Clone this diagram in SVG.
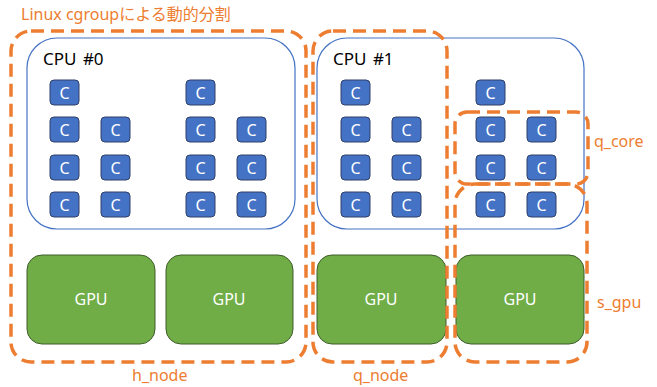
<svg xmlns="http://www.w3.org/2000/svg" width="657" height="387" viewBox="0 0 657 387">
<style>
.cpu{fill:#fff;stroke:#4472C4;stroke-width:1.2}
.core{fill:#4472C4;stroke:#2F3F66;stroke-width:1}
.ct{fill:#fff;font-family:"Noto Sans","Liberation Sans",sans-serif;font-size:16px;text-anchor:middle}
.gpu{fill:#70AD47;stroke:#3E5C2A;stroke-width:1}
.gt{fill:#fff;font-family:"Noto Sans","Liberation Sans",sans-serif;font-size:16px;text-anchor:middle}
.lbl{fill:#000;font-family:"Noto Sans","Liberation Sans",sans-serif;font-size:17px;word-spacing:2px}
.grp{fill:none;stroke:#ED7D31;stroke-width:3.5;stroke-dasharray:13 7}
.gl{fill:#ED7D31;font-family:"Noto Sans","Noto Sans CJK JP",sans-serif;font-size:16px}
</style>
<defs>
<g id="c"><rect class="core" x="0" y="0" width="29" height="25" rx="4"/><text class="ct" x="14.5" y="18.5">C</text></g>
</defs>
<g id="cpu0">
<rect class="cpu" x="27" y="38" width="268" height="191" rx="30"/>
<text class="lbl" x="43" y="65">CPU #0</text>
<use href="#c" x="50" y="80"/><use href="#c" x="186" y="80"/>
<use href="#c" x="50" y="117"/><use href="#c" x="101" y="117"/><use href="#c" x="186" y="117"/><use href="#c" x="237" y="117"/>
<use href="#c" x="50" y="155"/><use href="#c" x="101" y="155"/><use href="#c" x="186" y="155"/><use href="#c" x="237" y="155"/>
<use href="#c" x="50" y="192"/><use href="#c" x="101" y="192"/><use href="#c" x="186" y="192"/><use href="#c" x="237" y="192"/>
</g>
<g id="cpu1">
<rect class="cpu" x="317" y="38" width="267" height="191" rx="30"/>
<text class="lbl" x="333" y="65">CPU #1</text>
<use href="#c" x="341" y="80"/><use href="#c" x="476" y="80"/>
<use href="#c" x="341" y="117"/><use href="#c" x="392" y="117"/><use href="#c" x="476" y="117"/><use href="#c" x="527" y="117"/>
<use href="#c" x="341" y="155"/><use href="#c" x="392" y="155"/><use href="#c" x="476" y="155"/><use href="#c" x="527" y="155"/>
<use href="#c" x="341" y="192"/><use href="#c" x="392" y="192"/><use href="#c" x="476" y="192"/><use href="#c" x="527" y="192"/>
</g>
<g id="gpu0"><rect class="gpu" x="27" y="255" width="128" height="89" rx="15"/><text class="gt" x="91" y="305">GPU</text></g>
<g id="gpu1"><rect class="gpu" x="166" y="255" width="127" height="89" rx="15"/><text class="gt" x="229" y="305">GPU</text></g>
<g id="gpu2"><rect class="gpu" x="317" y="255" width="129" height="89" rx="15"/><text class="gt" x="381" y="305">GPU</text></g>
<g id="gpu3"><rect class="gpu" x="456" y="255" width="128" height="89" rx="15"/><text class="gt" x="520" y="305">GPU</text></g>
<g id="groups">
<text class="gl" x="21" y="20">Linux cgroupによる動的分割</text>
<g id="h_node"><rect class="grp" x="11" y="31" width="295" height="331" rx="20"/><text class="gl" x="132" y="381">h_node</text></g>
<g id="q_node"><rect class="grp" x="313" y="31" width="134" height="331" rx="20"/><text class="gl" x="353" y="381">q_node</text></g>
<g id="q_core"><rect class="grp" x="455" y="112" width="133" height="72" rx="12"/><text class="gl" x="594" y="147">q_core</text></g>
<g id="s_gpu"><rect class="grp" x="455" y="184" width="132" height="178" rx="20"/><text class="gl" x="597" y="308">s_gpu</text></g>
</g>
</svg>
